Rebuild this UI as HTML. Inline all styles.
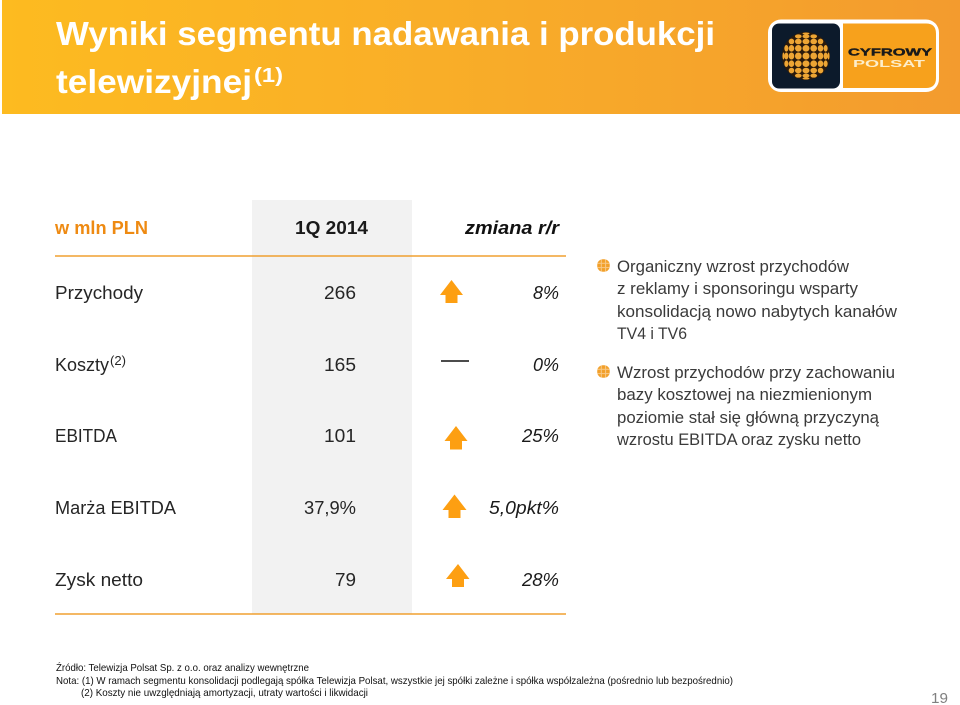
<!DOCTYPE html>
<html lang="pl">
<head>
<meta charset="utf-8">
<title>Wyniki segmentu nadawania i produkcji telewizyjnej</title>
<style>
html,body{margin:0;padding:0;background:#fff;width:960px;height:705px;overflow:hidden}
svg{display:block}
text{font-family:"Liberation Sans",sans-serif}
.t{font-size:18.5px;fill:#262626}
.i{font-size:18.5px;font-style:italic;fill:#1a1a1a}
.b{font-size:16.2px;fill:#3a3a3a}
.f{font-size:10.2px;fill:#111}
.title{font-size:33px;font-weight:bold;fill:#fff}
</style>
</head>
<body>
<svg width="960" height="705" viewBox="0 0 960 705" xmlns="http://www.w3.org/2000/svg">
<defs>
<linearGradient id="hdr" x1="0" x2="1" y1="0" y2="0">
<stop offset="0" stop-color="#fdbb20"/>
<stop offset="0.45" stop-color="#f9ae28"/>
<stop offset="1" stop-color="#f39b2e"/>
</linearGradient>
<pattern id="mini" x="597" y="259" width="4.300" height="4.300" patternUnits="userSpaceOnUse">
<rect width="4.300" height="4.300" fill="#f8c987"/>
<rect x="0.500" y="0.500" width="3.300" height="3.300" fill="#f2a02a"/>
</pattern>
<pattern id="mini2" x="597" y="365" width="4.300" height="4.300" patternUnits="userSpaceOnUse">
<rect width="4.300" height="4.300" fill="#f8c987"/>
<rect x="0.500" y="0.500" width="3.300" height="3.300" fill="#f2a02a"/>
</pattern>
</defs>

<rect x="2" y="0" width="958" height="114" fill="url(#hdr)"/>
<text class="title" x="56" y="45" textLength="659" lengthAdjust="spacingAndGlyphs">Wyniki segmentu nadawania i produkcji</text>
<text class="title" x="56" y="93" textLength="196" lengthAdjust="spacingAndGlyphs">telewizyjnej</text>
<text x="254" y="82" font-size="20" font-weight="bold" fill="#fff" textLength="29" lengthAdjust="spacingAndGlyphs">(1)</text>

<g id="logo">
<rect x="768" y="19.500" width="171" height="72.500" rx="13" fill="#fff"/>
<path d="M843 23.500H926Q936 23.500 936 33.500V78Q936 88 926 88H843Z" fill="#f7a11c"/>
<rect x="772" y="23.500" width="68" height="65" rx="7" fill="#0c1a2b"/>
<circle cx="806" cy="56" r="24" fill="#2a1a0c"/>
<text x="848" y="55.500" font-size="10.500" font-weight="bold" fill="#1a1a1a" stroke="#1a1a1a" stroke-width="0.400" textLength="84" lengthAdjust="spacingAndGlyphs">CYFROWY</text>
<text x="853" y="67" font-size="10" font-weight="bold" fill="#fdeecb" textLength="72" lengthAdjust="spacingAndGlyphs">POLSAT</text>
</g>

<rect x="252" y="200" width="160" height="414" fill="#f2f2f2"/>
<line x1="55" x2="566" y1="256" y2="256" stroke="#f0a030" stroke-width="1.500"/>
<line x1="55" x2="566" y1="614" y2="614" stroke="#f0a030" stroke-width="1.500"/>

<text x="55" y="234" font-size="18.500" font-weight="bold" fill="#ee8a12" textLength="93" lengthAdjust="spacingAndGlyphs">w mln PLN</text>
<text x="295" y="234" font-size="18.500" font-weight="bold" fill="#1a1a1a" textLength="73" lengthAdjust="spacingAndGlyphs">1Q 2014</text>
<text x="465" y="234" font-size="18.500" font-weight="bold" font-style="italic" fill="#111" textLength="94" lengthAdjust="spacingAndGlyphs">zmiana r/r</text>

<text class="t" x="55" y="299" textLength="88" lengthAdjust="spacingAndGlyphs">Przychody</text>
<text class="t" x="324" y="299" textLength="32" lengthAdjust="spacingAndGlyphs">266</text>
<text class="i" x="533" y="299" textLength="26" lengthAdjust="spacingAndGlyphs">8%</text>

<text class="t" x="55" y="371" textLength="54" lengthAdjust="spacingAndGlyphs">Koszty</text>
<text x="110" y="365" font-size="12.500" fill="#262626" textLength="16" lengthAdjust="spacingAndGlyphs">(2)</text>
<text class="t" x="324" y="371" textLength="32" lengthAdjust="spacingAndGlyphs">165</text>
<text class="i" x="533" y="371" textLength="26" lengthAdjust="spacingAndGlyphs">0%</text>

<text class="t" x="55" y="442" textLength="62" lengthAdjust="spacingAndGlyphs">EBITDA</text>
<text class="t" x="324" y="442" textLength="32" lengthAdjust="spacingAndGlyphs">101</text>
<text class="i" x="522" y="442" textLength="37" lengthAdjust="spacingAndGlyphs">25%</text>

<text class="t" x="55" y="514" textLength="121" lengthAdjust="spacingAndGlyphs">Marża EBITDA</text>
<text class="t" x="304" y="514" textLength="52" lengthAdjust="spacingAndGlyphs">37,9%</text>
<text class="i" x="489" y="514" textLength="70" lengthAdjust="spacingAndGlyphs">5,0pkt%</text>

<text class="t" x="55" y="586" textLength="88" lengthAdjust="spacingAndGlyphs">Zysk netto</text>
<text class="t" x="335" y="586" textLength="21" lengthAdjust="spacingAndGlyphs">79</text>
<text class="i" x="522" y="586" textLength="37" lengthAdjust="spacingAndGlyphs">28%</text>

<path d="M451.500 280L463 295H457.500V303H445.500V295H440Z" fill="#fd9f12"/>
<line x1="441" x2="469" y1="361" y2="361" stroke="#111" stroke-width="1.600"/>
<path d="M456 426L467.500 441H462V449.500H450V441H444.500Z" fill="#fd9f12"/>
<path d="M454.500 494.500L466.500 510H460.500V518H448.500V510H442.500Z" fill="#fd9f12"/>
<path d="M458 564L469.500 579H464V587H452V579H446Z" fill="#fd9f12"/>

<circle cx="603.500" cy="265.500" r="6.500" fill="url(#mini)"/>
<circle cx="603.500" cy="371.500" r="6.500" fill="url(#mini2)"/>

<g>
<text class="b" x="617" y="272" textLength="232" lengthAdjust="spacingAndGlyphs">Organiczny wzrost przychodów</text>
<text class="b" x="617" y="294" textLength="241" lengthAdjust="spacingAndGlyphs">z reklamy i sponsoringu wsparty</text>
<text class="b" x="617" y="317" textLength="280" lengthAdjust="spacingAndGlyphs">konsolidacją nowo nabytych kanałów</text>
<text class="b" x="617" y="339" textLength="70" lengthAdjust="spacingAndGlyphs">TV4 i TV6</text>
</g>
<g>
<text class="b" x="617" y="378" textLength="278" lengthAdjust="spacingAndGlyphs">Wzrost przychodów przy zachowaniu</text>
<text class="b" x="617" y="400" textLength="255" lengthAdjust="spacingAndGlyphs">bazy kosztowej na niezmienionym</text>
<text class="b" x="617" y="423" textLength="262" lengthAdjust="spacingAndGlyphs">poziomie stał się główną przyczyną</text>
<text class="b" x="617" y="445" textLength="244" lengthAdjust="spacingAndGlyphs">wzrostu EBITDA oraz zysku netto</text>
</g>

<text class="f" x="56" y="671" textLength="253" lengthAdjust="spacingAndGlyphs">Źródło: Telewizja Polsat Sp. z o.o. oraz analizy wewnętrzne</text>
<text class="f" x="56" y="684" textLength="677" lengthAdjust="spacingAndGlyphs">Nota: (1) W ramach segmentu konsolidacji podlegają spółka Telewizja Polsat, wszystkie jej spółki zależne i spółka współzależna (pośrednio lub bezpośrednio)</text>
<text class="f" x="81" y="696" textLength="287" lengthAdjust="spacingAndGlyphs">(2) Koszty nie uwzględniają amortyzacji, utraty wartości i likwidacji</text>
<text x="931" y="703" font-size="15" fill="#808080" textLength="17" lengthAdjust="spacingAndGlyphs">19</text>
</svg>
<script>
var logo = document.getElementById('logo');
var steps = [-4, -3, -2, -1, 0, 1, 2, 3, 4];
steps.forEach(function (row) {
  steps.forEach(function (col) {
    var u = col / 4.6 * Math.PI / 2;
    var v = row / 4.6 * Math.PI / 2;
    if (Math.sin(u) * Math.sin(u) + Math.sin(v) * Math.sin(v) > 0.98) { return; }
    var shape = document.createElementNS('http://www.w3.org/2000/svg', 'ellipse');
    shape.setAttribute('cx', 806 + 23 * Math.sin(u));
    shape.setAttribute('cy', 56 + 23 * Math.sin(v));
    shape.setAttribute('rx', 3.1 * Math.cos(u) + 0.4);
    shape.setAttribute('ry', 3.1 * Math.cos(v) + 0.4);
    shape.setAttribute('fill', '#eda534');
    
    
    logo.appendChild(shape);
  });
});
</script>
</body>
</html>
